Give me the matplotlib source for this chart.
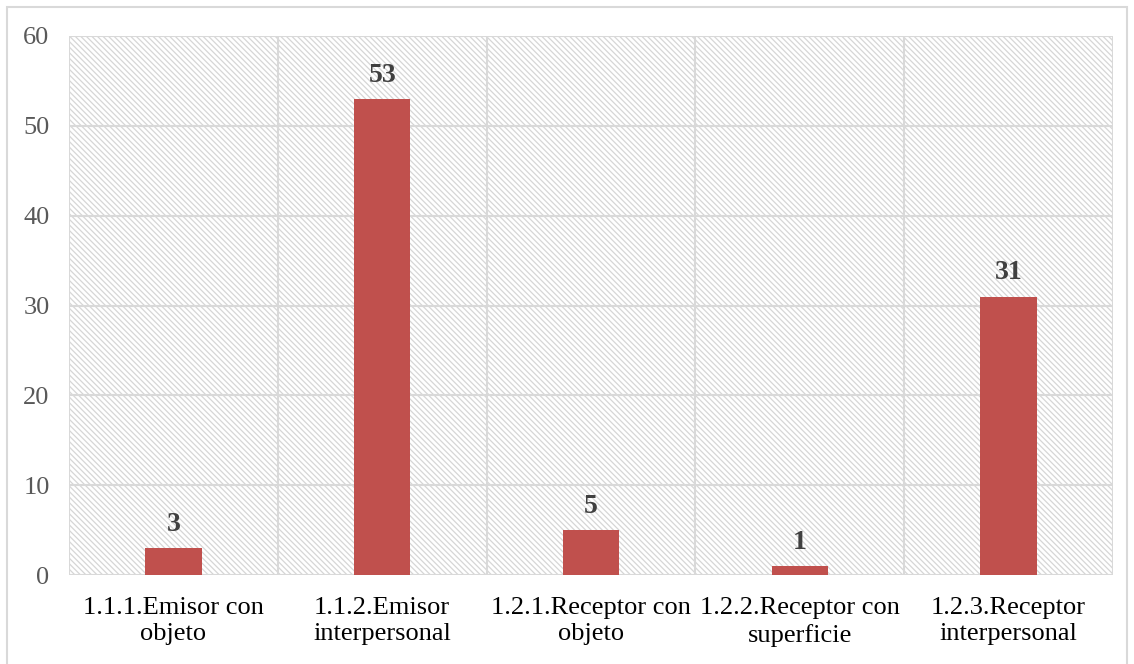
import matplotlib
matplotlib.use("Agg")
import matplotlib.pyplot as plt
from matplotlib.patches import Rectangle
import numpy as np

categories = ["1.1.1.Emisor con\nobjeto", "1.1.2.Emisor\ninterpersonal",
              "1.2.1.Receptor con\nobjeto", "1.2.2.Receptor con\nsuperficie",
              "1.2.3.Receptor\ninterpersonal"]
values = [3, 53, 5, 1, 31]
y_ticks = [0, 10, 20, 30, 40, 50, 60]

plt.rcParams["font.family"] = ["Liberation Serif", "DejaVu Serif"]
plt.rcParams["hatch.linewidth"] = 0.9
plt.rcParams["hatch.color"] = "#d6d6d6"

W, H = 1134, 664
fig = plt.figure(figsize=(W / 100, H / 100), dpi=100)
ax = fig.add_axes([69 / W, 1 - 575 / H, (1113 - 69) / W, (575 - 36) / H])

# outer chart border
fig.patches.append(Rectangle((7 / W, -0.01), (1127 - 7) / W, 1 - 7 / H + 0.01,
                             transform=fig.transFigure, fill=False,
                             edgecolor="#d9d9d9", linewidth=1.5))

# hatched plot background
ax.add_patch(Rectangle((0, 0), 1, 1, transform=ax.transAxes, facecolor="white",
                       edgecolor="#d6d6d6", linewidth=0, hatch="\\" * 6, zorder=0))

x = np.arange(len(categories))
ax.bar(x, values, width=0.27, color="#c0504d", zorder=3)

ax.set_xlim(-0.5, len(categories) - 0.5)
ax.set_ylim(0, 60)
ax.set_yticks(y_ticks)
ax.set_yticklabels([str(t) for t in y_ticks], fontsize=19, color="#595959")
ax.set_xticks(x)
ax.set_xticklabels(categories, fontsize=19, color="black", linespacing=1.25)
ax.tick_params(axis="y", length=0, pad=14)
ax.tick_params(axis="x", length=0, pad=16)

# grid lines
for t in y_ticks:
    ax.axhline(t, color="#d9d9d9", linewidth=1.5, zorder=1)
for b in np.arange(-0.5, len(categories), 1.0):
    ax.axvline(b, color="#d9d9d9", linewidth=1.5, zorder=1)

for s in ax.spines.values():
    s.set_visible(False)

for xi, v in zip(x, values):
    ax.annotate(str(v), (xi, v), xytext=(0, 8), textcoords="offset points",
                ha="center", va="bottom", fontsize=20, fontweight="bold",
                color="#404040", zorder=4)

fig.savefig("out.png", dpi=100)
